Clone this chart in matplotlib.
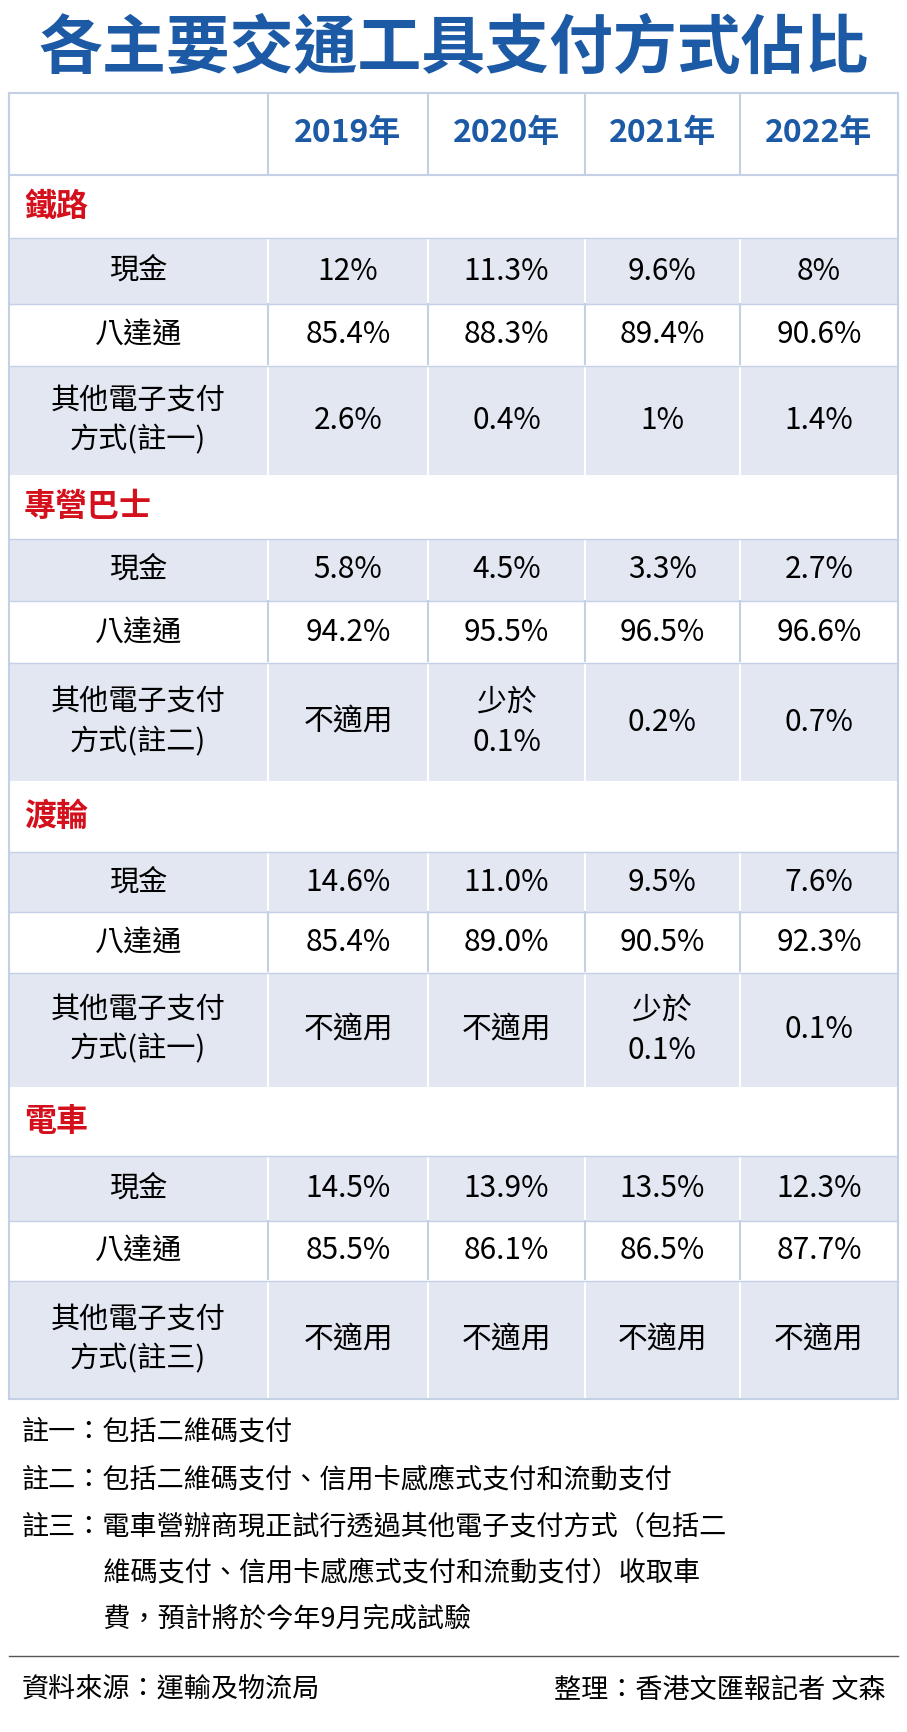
import matplotlib
matplotlib.use("Agg")
import matplotlib.pyplot as plt
from matplotlib.patches import Rectangle

title = "各主要交通工具支付方式佔比"
years = ["2019年", "2020年", "2021年", "2022年"]
sections = ["鐵路", "專營巴士", "渡輪", "電車"]
row_labels = [
    ["現金", "八達通", "其他電子支付\n方式(註一)"],
    ["現金", "八達通", "其他電子支付\n方式(註二)"],
    ["現金", "八達通", "其他電子支付\n方式(註一)"],
    ["現金", "八達通", "其他電子支付\n方式(註三)"],
]
rail = [["12%", "11.3%", "9.6%", "8%"], ["85.4%", "88.3%", "89.4%", "90.6%"], ["2.6%", "0.4%", "1%", "1.4%"]]
bus = [["5.8%", "4.5%", "3.3%", "2.7%"], ["94.2%", "95.5%", "96.5%", "96.6%"], ["不適用", "少於\n0.1%", "0.2%", "0.7%"]]
ferry = [["14.6%", "11.0%", "9.5%", "7.6%"], ["85.4%", "89.0%", "90.5%", "92.3%"], ["不適用", "不適用", "少於\n0.1%", "0.1%"]]
tram = [["14.5%", "13.9%", "13.5%", "12.3%"], ["85.5%", "86.1%", "86.5%", "87.7%"], ["不適用", "不適用", "不適用", "不適用"]]
values = [rail, bus, ferry, tram]
notes = [
    "註一：包括二維碼支付",
    "註二：包括二維碼支付、信用卡感應式支付和流動支付",
    "註三：電車營辦商現正試行透過其他電子支付方式（包括二",
    "　　　維碼支付、信用卡感應式支付和流動支付）收取車",
    "　　　費，預計將於今年9月完成試驗",
]
source_left = "資料來源：運輸及物流局"
source_right = "整理：香港文匯報記者 文森"

F = "Noto Sans CJK TC"
BLUE = "#1c5aa6"
RED = "#d4101c"
SHADE = "#e3e7f2"
LINE = "#c3d0e6"

W, H = 830, 1585
fig = plt.figure(figsize=(9.07, 17.32), dpi=100)
ax = fig.add_axes([0, 0, 1, 1])
ax.set_xlim(0, W); ax.set_ylim(H, 0); ax.axis("off")

ax.text(W / 2, 45, title, ha="center", va="center", fontsize=46, fontweight="bold", color=BLUE, family=F)

cols = [8, 245, 392, 535, 677, 822]
centers = [(cols[i] + cols[i + 1]) / 2 for i in range(5)]
ax.add_patch(Rectangle((8, 85), 814, 75, fc="white", ec=LINE, lw=1.5))
for c in cols[1:-1]:
    ax.plot([c, c], [85, 160], color=LINE, lw=1.5)
for i, y in enumerate(years):
    ax.text(centers[i + 1], 122, y, ha="center", va="center", fontsize=23, fontweight="bold", color=BLUE, family=F)

sec_bounds = [
    (160, [218, 278, 335, 435]),
    (435, [493, 550, 607, 715]),
    (715, [780, 835, 890, 995]),
    (995, [1058, 1117, 1172, 1280]),
]
for s, (ys, rb) in enumerate(sec_bounds):
    ax.text(22, (ys + rb[0]) / 2, sections[s], ha="left", va="center", fontsize=23, fontweight="bold", color=RED, family=F)
    for r in range(3):
        y0, y1 = rb[r], rb[r + 1]
        fc = SHADE if r != 1 else "white"
        ax.add_patch(Rectangle((8, y0), 814, y1 - y0, fc=fc, ec="none"))
        for c in cols[1:-1]:
            ax.plot([c, c], [y0, y1], color="white" if r != 1 else LINE, lw=1.5)
        ax.plot([8, 822], [y0, y0], color=LINE, lw=1)
        ax.text(centers[0], (y0 + y1) / 2, row_labels[s][r], ha="center", va="center", fontsize=21, family=F, linespacing=1.4)
        for j in range(4):
            ax.text(centers[j + 1], (y0 + y1) / 2, values[s][r][j], ha="center", va="center", fontsize=21.5, family=F, linespacing=1.4)
ax.plot([8, 8], [85, 1280], color=LINE, lw=1.5)
ax.plot([822, 822], [85, 1280], color=LINE, lw=1.5)
ax.plot([8, 822], [1280, 1280], color=LINE, lw=1.5)

for k, (n, y) in enumerate(zip(notes, [1310, 1355, 1397, 1440, 1482])):
    ax.text(20, y, n, ha="left", va="center", fontsize=19.5, family=F)
ax.plot([8, 822], [1515, 1515], color="#555555", lw=1)
ax.text(20, 1547, source_left, ha="left", va="center", fontsize=19.5, family=F)
ax.text(810, 1547, source_right, ha="right", va="center", fontsize=19.5, family=F)

fig.savefig("out.png", dpi=100)
